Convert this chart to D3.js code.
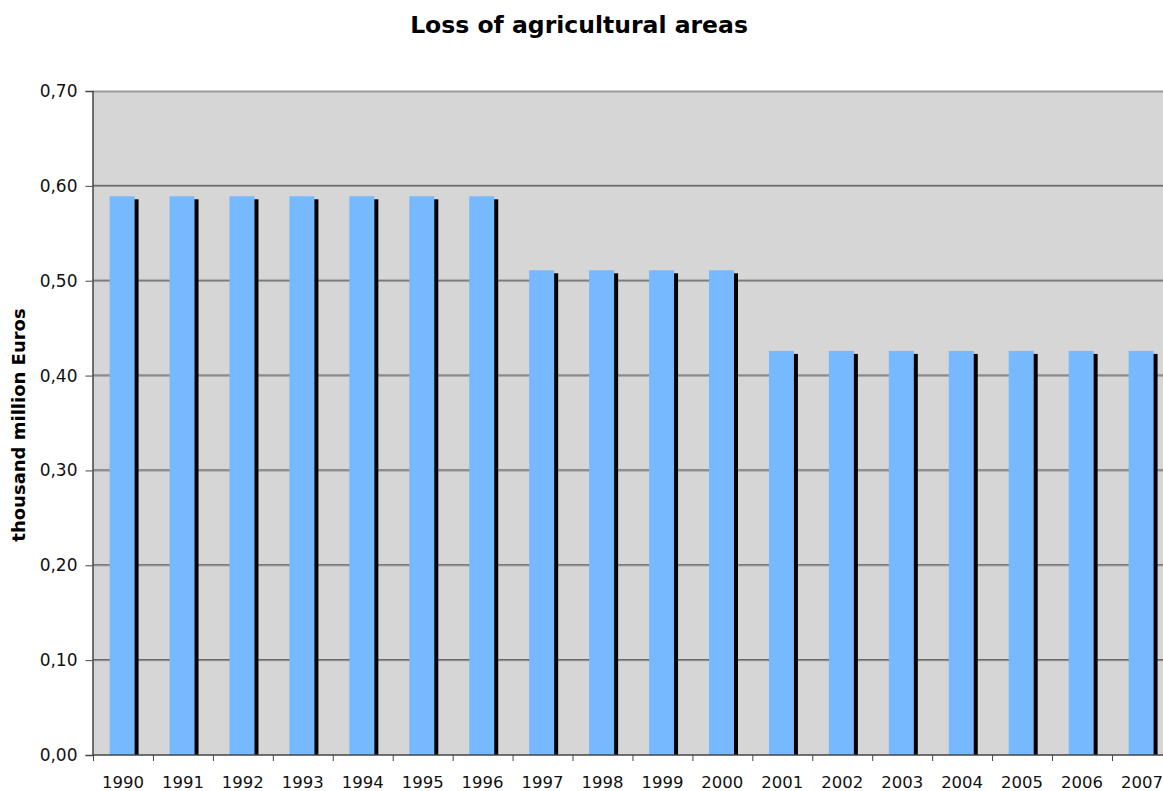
<!DOCTYPE html>
<html>
<head>
<meta charset="utf-8">
<script src="https://cdn.jsdelivr.net/npm/d3@7"></script>
<style>
  html, body { margin: 0; padding: 0; background: #fff; }
  svg { display: block; font-family: "DejaVu Sans", Verdana, sans-serif; }
</style>
</head>
<body>
<svg id="chart" width="1163" height="791"></svg>
<script>
// Loss of agricultural areas, thousand million Euros per year
const years = ["1990","1991","1992","1993","1994","1995","1996","1997","1998",
               "1999","2000","2001","2002","2003","2004","2005","2006","2007"];
const values = [0.589, 0.589, 0.589, 0.589, 0.589, 0.589, 0.589,
                0.511, 0.511, 0.511, 0.511,
                0.426, 0.426, 0.426, 0.426, 0.426, 0.426, 0.426];
const yTicks = [0, 0.1, 0.2, 0.3, 0.4, 0.5, 0.6, 0.7];
const titleText = "Loss of agricultural areas";
const yAxisTitle = "thousand million Euros";

(function () {
  const svg = d3.select("#chart");

  // plot area; the category axis runs past the right edge of the page
  const plotLeft = 93, plotTop = 91, plotBottom = 755;
  const band = 59.94;
  const plotRight = plotLeft + band * years.length;

  const x = d3.scaleBand().domain(years).range([plotLeft, plotRight]).paddingInner(0).paddingOuter(0);
  const y = d3.scaleLinear().domain([0, 0.7]).range([plotBottom, plotTop]);
  const fmt = v => d3.format(".2f")(v).replace(".", ",");

  // background
  svg.append("rect")
    .attr("x", plotLeft).attr("y", plotTop)
    .attr("width", plotRight - plotLeft).attr("height", plotBottom - plotTop)
    .attr("fill", "#d6d6d6");

  // gridlines
  const grid = svg.append("g");
  yTicks.filter(t => t > 0 && t < 0.7).forEach(t => {
    grid.append("line")
      .attr("x1", plotLeft).attr("x2", plotRight)
      .attr("y1", y(t) - 0.5).attr("y2", y(t) - 0.5)
      .attr("stroke", "#555").attr("stroke-width", 1);
    grid.append("line")
      .attr("x1", plotLeft).attr("x2", plotRight)
      .attr("y1", y(t) + 0.5).attr("y2", y(t) + 0.5)
      .attr("stroke", "#8a8a8a").attr("stroke-width", 1);
  });
  grid.append("line")
    .attr("x1", plotLeft).attr("x2", plotRight)
    .attr("y1", y(0.7) + 0.5).attr("y2", y(0.7) + 0.5)
    .attr("stroke", "#9a9a9a").attr("stroke-width", 2);

  // bars with a dark drop shadow
  const bw = x.bandwidth() * 0.417;
  const bOff = x.bandwidth() * 0.277;
  const bars = svg.append("g");
  bars.selectAll("rect.shadow")
    .data(years)
    .join("rect")
    .attr("class", "shadow")
    .attr("x", d => x(d) + bOff + 4)
    .attr("y", (d, i) => y(values[i]) + 3)
    .attr("width", bw)
    .attr("height", (d, i) => plotBottom - y(values[i]) - 3)
    .attr("fill", "#000");
  bars.selectAll("rect.bar")
    .data(years)
    .join("rect")
    .attr("class", "bar")
    .attr("x", d => x(d) + bOff)
    .attr("y", (d, i) => y(values[i]))
    .attr("width", bw)
    .attr("height", (d, i) => plotBottom - y(values[i]))
    .attr("fill", "#76b9ff");

  // y axis
  const yAxis = d3.axisLeft(y).tickValues(yTicks).tickFormat(fmt).tickSize(7).tickPadding(8);
  const gy = svg.append("g").attr("transform", `translate(${plotLeft - 0.5},0)`).call(yAxis);
  gy.select(".domain").attr("stroke", "#444").attr("stroke-width", 1.5);
  gy.selectAll(".tick line").attr("stroke", "#444");
  gy.selectAll(".tick text")
    .attr("font-size", 17).attr("fill", "#111")
    .attr("font-family", "DejaVu Sans, Verdana, sans-serif");

  // x axis: ticks sit on the band boundaries, labels in the band centres
  const gx = svg.append("g").attr("transform", `translate(0,${plotBottom})`);
  gx.append("line")
    .attr("x1", plotLeft).attr("x2", plotRight)
    .attr("y1", 0).attr("y2", 0)
    .attr("stroke", "#444").attr("stroke-width", 1.5);
  gx.selectAll("line.tick")
    .data(years)
    .join("line")
    .attr("class", "tick")
    .attr("x1", d => x(d) + 0.5).attr("x2", d => x(d) + 0.5)
    .attr("y1", 0).attr("y2", 6)
    .attr("stroke", "#444");
  gx.selectAll("text")
    .data(years)
    .join("text")
    .attr("x", d => x(d) + x.bandwidth() / 2)
    .attr("y", 33)
    .attr("text-anchor", "middle")
    .attr("font-size", 16.5)
    .attr("fill", "#111")
    .text(d => d);

  // title
  svg.append("text")
    .attr("x", 579).attr("y", 33)
    .attr("text-anchor", "middle")
    .attr("font-size", 23.5).attr("font-weight", "bold")
    .attr("fill", "#000")
    .text(titleText);

  // y axis title
  svg.append("text")
    .attr("transform", `translate(25,${(plotTop + plotBottom) / 2 + 2}) rotate(-90)`)
    .attr("text-anchor", "middle")
    .attr("font-size", 18).attr("font-weight", "bold")
    .attr("fill", "#000")
    .text(yAxisTitle);
})();
</script>
</body>
</html>
